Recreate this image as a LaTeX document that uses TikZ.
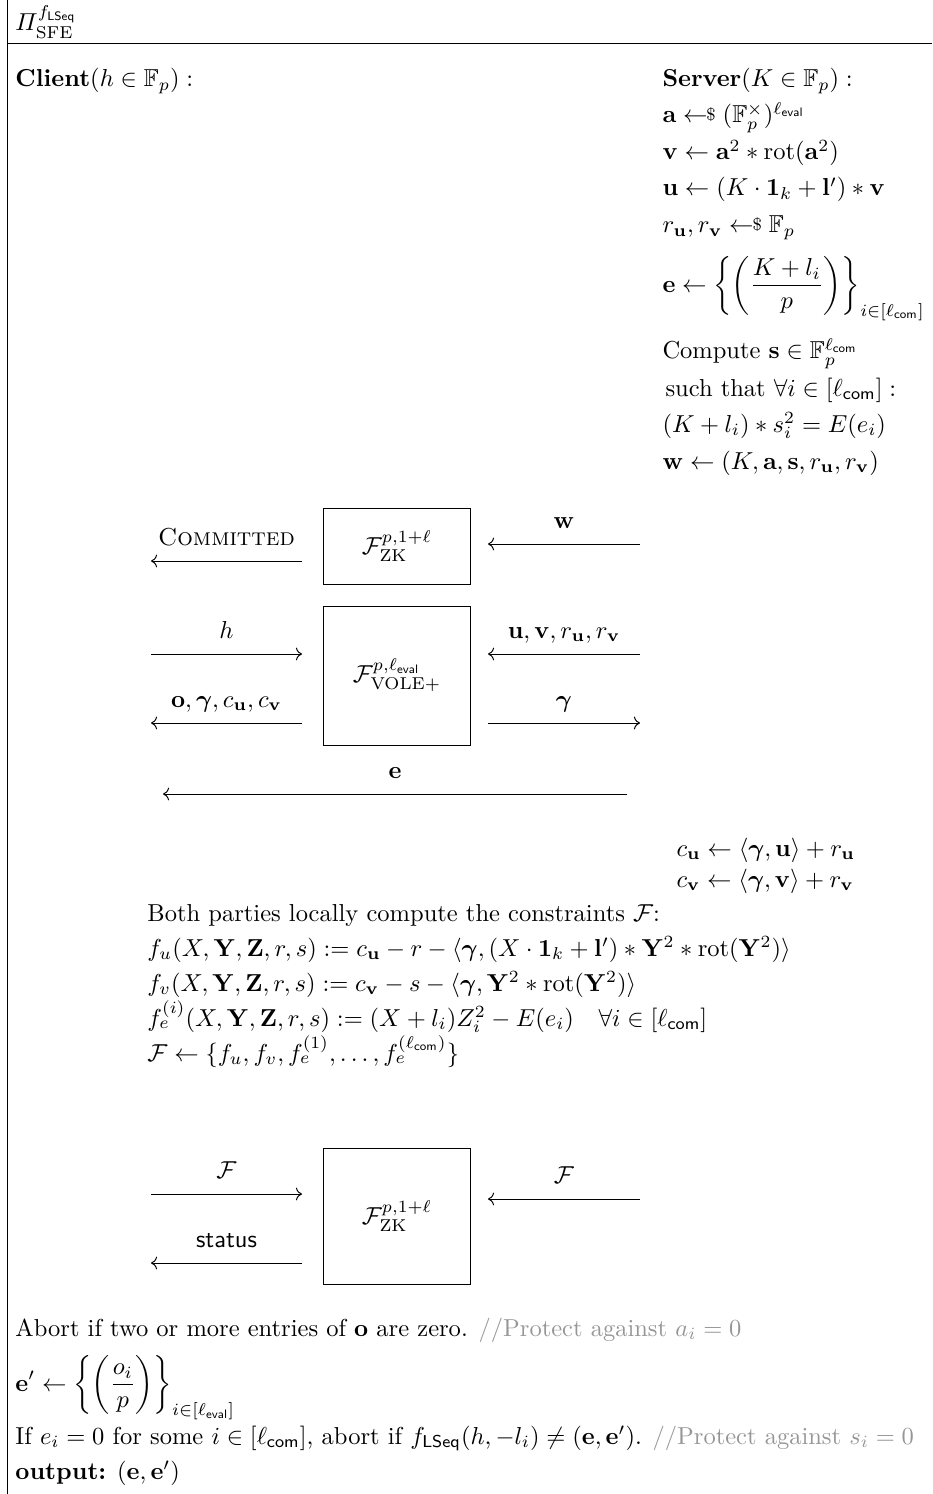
\documentclass[tikz,border=0pt]{standalone}
\usepackage{amsmath,amssymb,amsfonts}
\usepackage{xcolor}
\usepackage{tikz}
\usetikzlibrary{arrows.meta,positioning}
\definecolor{cmtgray}{RGB}{150,150,150}
\newcommand{\sampleby}{\mathrel{\leftarrow\!\!\raisebox{0.2ex}{\scriptsize\$}}}
\newcommand{\lcom}{\ell_{\mathsf{com}}}
\newcommand{\leval}{\ell_{\mathsf{eval}}}
\newcommand{\bgam}{\boldsymbol{\gamma}}
\newcommand{\cmt}[1]{{\color{cmtgray}$//$#1}}

\begin{document}
\begin{tikzpicture}[x=0.408pt, y=-0.408pt,
  txt/.style={anchor=base west, inner sep=0pt},
  func/.style={draw, minimum width=59.6pt, inner sep=0pt},
  msg/.style={->},
  lbl/.style={midway, anchor=base, yshift=6.5pt, inner sep=0pt}]
  \useasboundingbox (0,0) rectangle (932,1494);

  % frame and title
  \draw (7,0) -- (7,1494);
  \draw (7,43) -- (932,43);
  \node[txt] (title) at (15,31) {$\varPi^{f_{\mathsf{LSeq}}}_{\mathrm{SFE}}$};

  % --- parties ---
  \node[txt] (client) at (15,87) {$\textbf{Client}(h \in \mathbb{F}_p):$};
  \node[txt] (server) at (662,87) {$\textbf{Server}(K \in \mathbb{F}_p):$};

  % server setup
  \node[txt] (srvA) at (662,123) {$\mathbf{a} \sampleby (\mathbb{F}_p^{\times})^{\leval}$};
  \node[txt] (srvV) at (662,160) {$\mathbf{v} \leftarrow \mathbf{a}^2 * \mathrm{rot}(\mathbf{a}^2)$};
  \node[txt] (srvU) at (662,196) {$\mathbf{u} \leftarrow (K \cdot \mathbf{1}_k + \mathbf{l}') * \mathbf{v}$};
  \node[txt] (srvR) at (662,233) {$r_{\mathbf{u}}, r_{\mathbf{v}} \sampleby \mathbb{F}_p$};
  \node[txt] (srvE) at (662,292) {$\displaystyle \mathbf{e} \leftarrow \left\{ \left( \frac{K+l_i}{p} \right) \right\}_{i\in[\lcom]}$};
  \node[txt] (srvS) at (662,359) {Compute $\mathbf{s} \in \mathbb{F}_p^{\lcom}$};
  \node[txt] (srvST) at (665,396) {such that $\forall i \in [\lcom]:$};
  \node[txt] (srvK) at (662,432) {$(K+l_i) * s_i^2 = E(e_i)$};
  \node[txt] (srvW) at (662,469) {$\mathbf{w} \leftarrow (K, \mathbf{a}, \mathbf{s}, r_{\mathbf{u}}, r_{\mathbf{v}})$};

  % --- functionalities ---
  \node[func, minimum height=31pt] (zkA) at (397,546) {$\mathcal{F}_{\mathrm{ZK}}^{p,1+\ell}$};
  \node[func, minimum height=56.7pt] (vole) at (397,675.5) {$\mathcal{F}_{\mathrm{VOLE+}}^{p,\leval}$};
  \node[func, minimum height=55.5pt] (zkB) at (397,1216) {$\mathcal{F}_{\mathrm{ZK}}^{p,1+\ell}$};

  % arrow columns and rows
  \coordinate (cl) at (151,0);
  \coordinate (cr) at (302,0);
  \coordinate (sl) at (488,0);
  \coordinate (sr) at (640,0);
  \coordinate (rCmt) at (0,561);
  \coordinate (rW) at (0,544);
  \coordinate (rH) at (0,654);
  \coordinate (rO) at (0,723);
  \coordinate (rFc) at (0,1194);
  \coordinate (rFs) at (0,1199);
  \coordinate (rSt) at (0,1263);
  \coordinate (eR) at (627,794);
  \coordinate (eL) at (163,794);

  % messages
  \draw[msg] (cr |- rCmt) -- node[lbl] {\textsc{Committed}} (cl |- rCmt);
  \draw[msg] (sr |- rW) -- node[lbl] {$\mathbf{w}$} (sl |- rW);
  \draw[msg] (cl |- rH) -- node[lbl] {$h$} (cr |- rH);
  \draw[msg] (sr |- rH) -- node[lbl] {$\mathbf{u}, \mathbf{v}, r_{\mathbf{u}}, r_{\mathbf{v}}$} (sl |- rH);
  \draw[msg] (cr |- rO) -- node[lbl] {$\mathbf{o}, \bgam, c_{\mathbf{u}}, c_{\mathbf{v}}$} (cl |- rO);
  \draw[msg] (sl |- rO) -- node[lbl] {$\bgam$} (sr |- rO);
  \draw[msg] (eR) -- node[lbl] {$\mathbf{e}$} (eL);

  % server commitments
  \node[txt] (comU) at (676,856) {$c_{\mathbf{u}} \leftarrow \langle \bgam, \mathbf{u} \rangle + r_{\mathbf{u}}$};
  \node[txt] (comV) at (676,887) {$c_{\mathbf{v}} \leftarrow \langle \bgam, \mathbf{v} \rangle + r_{\mathbf{v}}$};

  % constraints
  \node[txt] (both) at (147,921) {Both parties locally compute the constraints $\mathcal{F}$:};
  \node[txt] (fu) at (147,956) {$f_u(X, \mathbf{Y}, \mathbf{Z}, r, s) := c_{\mathbf{u}} - r - \langle \bgam, (X \cdot \mathbf{1}_k + \mathbf{l}') * \mathbf{Y}^2 * \mathrm{rot}(\mathbf{Y}^2) \rangle$};
  \node[txt] (fv) at (147,991) {$f_v(X, \mathbf{Y}, \mathbf{Z}, r, s) := c_{\mathbf{v}} - s - \langle \bgam, \mathbf{Y}^2 * \mathrm{rot}(\mathbf{Y}^2) \rangle$};
  \node[txt] (fe) at (147,1026) {$f_e^{(i)}(X, \mathbf{Y}, \mathbf{Z}, r, s) := (X + l_i) Z_i^2 - E(e_i) \quad \forall i \in [\lcom]$};
  \node[txt] (fset) at (147,1061) {$\mathcal{F} \leftarrow \{ f_u, f_v, f_e^{(1)}, \ldots, f_e^{(\lcom)} \}$};

  % proof
  \draw[msg] (cl |- rFc) -- node[lbl] {$\mathcal{F}$} (cr |- rFc);
  \draw[msg] (sr |- rFs) -- node[lbl] {$\mathcal{F}$} (sl |- rFs);
  \draw[msg] (cr |- rSt) -- node[lbl] {\textsf{status}} (cl |- rSt);

  % client checks
  \node[txt] (abort) at (15,1336) {Abort if two or more entries of $\mathbf{o}$ are zero. \cmt{Protect against $a_i = 0$}};
  \node[txt] (eprime) at (15,1391) {$\displaystyle \mathbf{e}' \leftarrow \left\{ \left( \frac{o_i}{p} \right) \right\}_{i\in[\leval]}$};
  \node[txt] (check) at (15,1444) {If $e_i = 0$ for some $i \in [\lcom]$, abort if $f_{\mathsf{LSeq}}(h, -l_i) \neq (\mathbf{e}, \mathbf{e}')$. \cmt{Protect against $s_i = 0$}};
  \node[txt] (out) at (15,1479) {\textbf{output:} $(\mathbf{e}, \mathbf{e}')$};
\end{tikzpicture}
\end{document}
